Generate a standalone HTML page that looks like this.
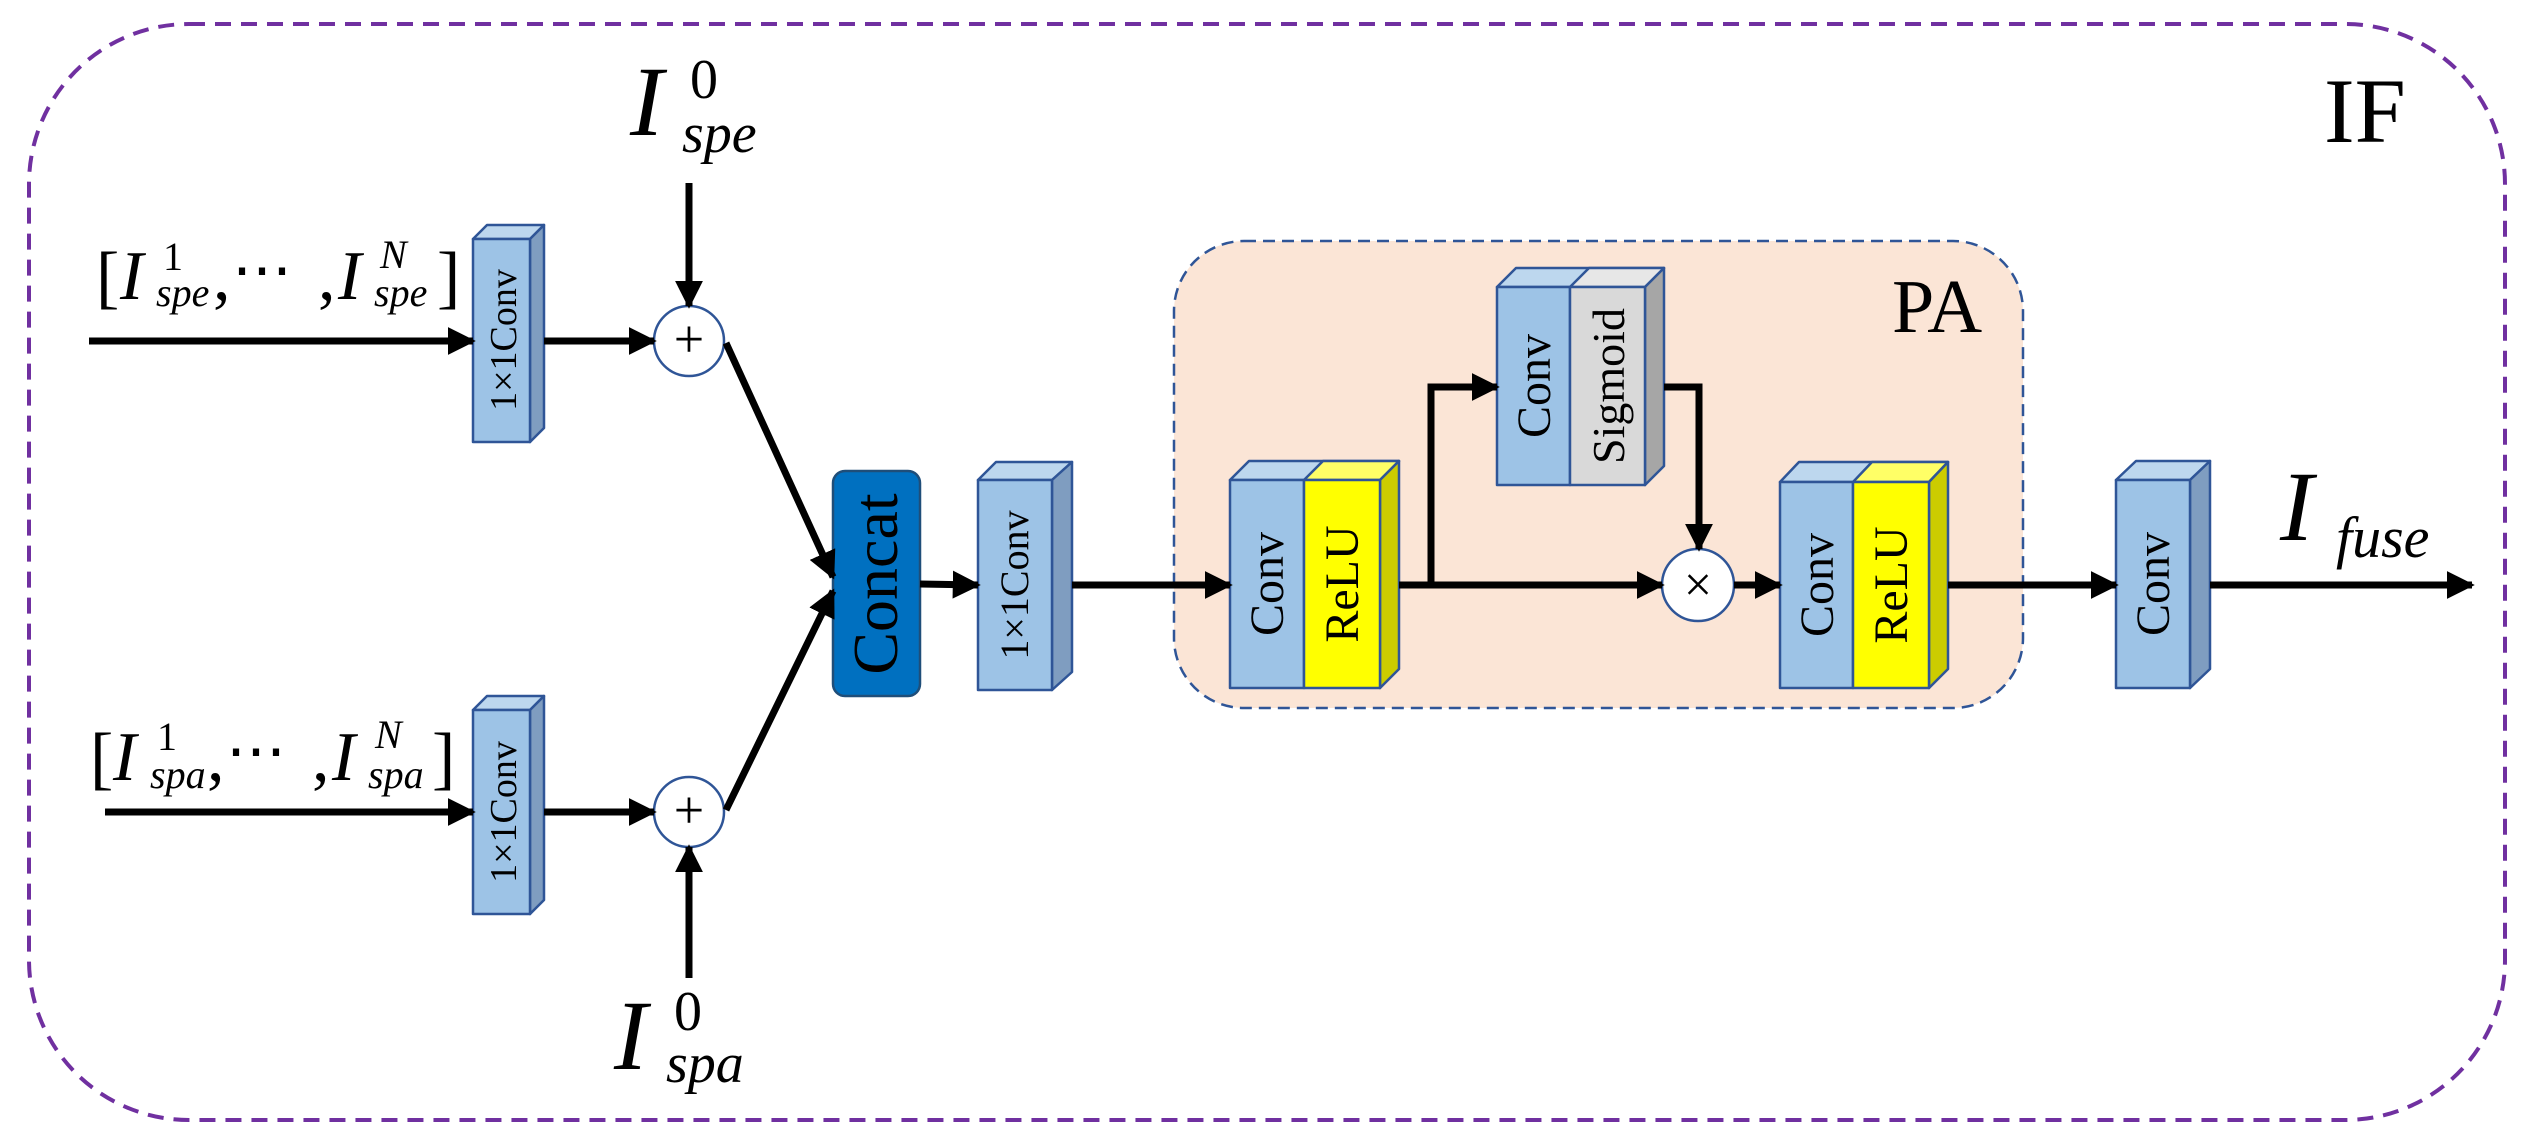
<!DOCTYPE html>
<html><head><meta charset="utf-8"><style>
html,body{margin:0;padding:0;background:#fff;}
svg{display:block;}
text{font-family:"Liberation Serif",serif;fill:#000;}
.it{font-style:italic;}
</style></head><body>
<svg width="2527" height="1143" viewBox="0 0 2527 1143" xmlns="http://www.w3.org/2000/svg">
<defs>
<marker id="ah" markerWidth="4" markerHeight="4" refX="3.6" refY="2" orient="auto" markerUnits="strokeWidth">
<path d="M0,0 L4,2 L0,4 z" fill="#000"/>
</marker>
</defs>
<rect x="29" y="24" width="2476" height="1096" rx="160" ry="160" fill="none" stroke="#7030A0" stroke-width="4" stroke-dasharray="16,10"/>
<text x="2324" y="142" font-size="92">IF</text>

<rect x="1174" y="241" width="849" height="467" rx="70" ry="70" fill="#FBE5D6" stroke="#2F5597" stroke-width="2.5" stroke-dasharray="12,7"/>
<text x="1892" y="332" font-size="76">PA</text>

<g stroke="#2F5597" stroke-width="2.5" stroke-linejoin="round">
<polygon points="473,239 487,225 544,225 530,239" fill="#BDD7EE"/>
<polygon points="530,239 544,225 544,428 530,442" fill="#7F9DC0"/>
<rect x="473" y="239" width="57" height="203" fill="#9DC3E6"/>
<polygon points="473,710 487,696 544,696 530,710" fill="#BDD7EE"/>
<polygon points="530,710 544,696 544,900 530,914" fill="#7F9DC0"/>
<rect x="473" y="710" width="57" height="204" fill="#9DC3E6"/>
<rect x="833" y="471" width="87" height="225" rx="12" ry="12" fill="#0070C0" stroke="#1F4E79"/>
<polygon points="978,480 996,462 1072,462 1052,480" fill="#BDD7EE"/>
<polygon points="1052,480 1072,462 1072,672 1052,690" fill="#7F9DC0"/>
<rect x="978" y="480" width="74" height="210" fill="#9DC3E6"/>
<polygon points="1230,480 1249,461 1399,461 1380,480" fill="#BDD7EE"/>
<polygon points="1304,480 1323,461 1399,461 1380,480" fill="#FFFF66"/>
<polygon points="1380,480 1399,461 1399,669 1380,688" fill="#CCCC00"/>
<rect x="1230" y="480" width="74" height="208" fill="#9DC3E6"/>
<rect x="1304" y="480" width="76" height="208" fill="#FFFF00"/>
<polygon points="1497,287 1516,268 1664,268 1645,287" fill="#BDD7EE"/>
<polygon points="1570,287 1589,268 1664,268 1645,287" fill="#E7E7E7"/>
<polygon points="1645,287 1664,268 1664,466 1645,485" fill="#A6A6A6"/>
<rect x="1497" y="287" width="73" height="198" fill="#9DC3E6"/>
<rect x="1570" y="287" width="75" height="198" fill="#D9D9D9"/>
<polygon points="1780,482 1799,462 1948,462 1929,482" fill="#BDD7EE"/>
<polygon points="1853,482 1872,462 1948,462 1929,482" fill="#FFFF66"/>
<polygon points="1929,482 1948,462 1948,669 1929,688" fill="#CCCC00"/>
<rect x="1780" y="482" width="73" height="206" fill="#9DC3E6"/>
<rect x="1853" y="482" width="76" height="206" fill="#FFFF00"/>
<polygon points="2116,480 2136,461 2210,461 2190,480" fill="#BDD7EE"/>
<polygon points="2190,480 2210,461 2210,669 2190,688" fill="#7F9DC0"/>
<rect x="2116" y="480" width="74" height="208" fill="#9DC3E6"/>
<circle cx="689" cy="341" r="35" fill="#fff"/>
<circle cx="689" cy="812" r="35" fill="#fff"/>
<circle cx="1698" cy="585" r="36" fill="#fff"/>
</g>
<text x="689" y="357" font-size="54" text-anchor="middle">+</text>
<text x="689" y="828" font-size="54" text-anchor="middle">+</text>
<text x="1698" y="601" font-size="50" text-anchor="middle">×</text>

<g stroke="#000" stroke-width="7" fill="none" marker-end="url(#ah)">
<line x1="89" y1="341" x2="473" y2="341"/>
<line x1="544" y1="341" x2="654" y2="341"/>
<line x1="689" y1="183" x2="689" y2="306"/>
<line x1="105" y1="812" x2="473" y2="812"/>
<line x1="544" y1="812" x2="654" y2="812"/>
<line x1="689" y1="978" x2="689" y2="847"/>
<line x1="726" y1="343" x2="833" y2="577"/>
<line x1="726" y1="810" x2="833" y2="591"/>
<line x1="920" y1="584" x2="978" y2="585"/>
<line x1="1072" y1="585" x2="1230" y2="585"/>
<line x1="1399" y1="585" x2="1662" y2="585"/>
<polyline points="1431,585 1431,387 1497,387"/>
<polyline points="1664,387 1699,387 1699,549"/>
<line x1="1734" y1="585" x2="1780" y2="585"/>
<line x1="1948" y1="585" x2="2116" y2="585"/>
<line x1="2210" y1="585" x2="2472" y2="585"/>
</g>

<text transform="translate(516,340) rotate(-90)" font-size="38" text-anchor="middle">1×1Conv</text>
<text transform="translate(516,812) rotate(-90)" font-size="38" text-anchor="middle">1×1Conv</text>
<text transform="translate(897,584) rotate(-90)" font-size="64" text-anchor="middle">Concat</text>
<text transform="translate(1028,585) rotate(-90)" font-size="40" text-anchor="middle">1×1Conv</text>
<text transform="translate(1283,584) rotate(-90)" font-size="48" text-anchor="middle">Conv</text>
<text transform="translate(1358,584) rotate(-90)" font-size="48" text-anchor="middle">ReLU</text>
<text transform="translate(1550,386) rotate(-90)" font-size="48" text-anchor="middle">Conv</text>
<text transform="translate(1624,386) rotate(-90)" font-size="46" text-anchor="middle">Sigmoid</text>
<text transform="translate(1833,585) rotate(-90)" font-size="48" text-anchor="middle">Conv</text>
<text transform="translate(1907,585) rotate(-90)" font-size="48" text-anchor="middle">ReLU</text>
<text transform="translate(2169,584) rotate(-90)" font-size="48" text-anchor="middle">Conv</text>

<text x="630" y="135" font-size="100" class="it">I</text>
<text x="690" y="98" font-size="56">0</text>
<text x="682" y="152" font-size="56" class="it">spe</text>

<text x="614" y="1069" font-size="100" class="it">I</text>
<text x="674" y="1030" font-size="56">0</text>
<text x="666" y="1082" font-size="56" class="it">spa</text>

<text x="2280" y="540" font-size="100" class="it">I</text>
<text x="2336" y="557" font-size="58" class="it">fuse</text>

<g font-size="70">
<text x="96" y="300">[</text>
<text x="120" y="299" class="it">I</text>
<text x="163" y="270" font-size="40">1</text>
<text x="156" y="306" font-size="40" class="it">spe</text>
<text x="213" y="299">,</text>
<text x="232" y="290" font-size="60">⋯</text>
<text x="318" y="299">,</text>
<text x="338" y="299" class="it">I</text>
<text x="380" y="268" font-size="40" class="it">N</text>
<text x="374" y="306" font-size="40" class="it">spe</text>
<text x="437" y="300">]</text>
</g>
<g font-size="70">
<text x="90" y="781">[</text>
<text x="113" y="780" class="it">I</text>
<text x="157" y="750" font-size="40">1</text>
<text x="150" y="788" font-size="40" class="it">spa</text>
<text x="207" y="780">,</text>
<text x="226" y="771" font-size="60">⋯</text>
<text x="312" y="780">,</text>
<text x="332" y="780" class="it">I</text>
<text x="375" y="748" font-size="40" class="it">N</text>
<text x="368" y="788" font-size="40" class="it">spa</text>
<text x="432" y="781">]</text>
</g>
</svg>
</body></html>
